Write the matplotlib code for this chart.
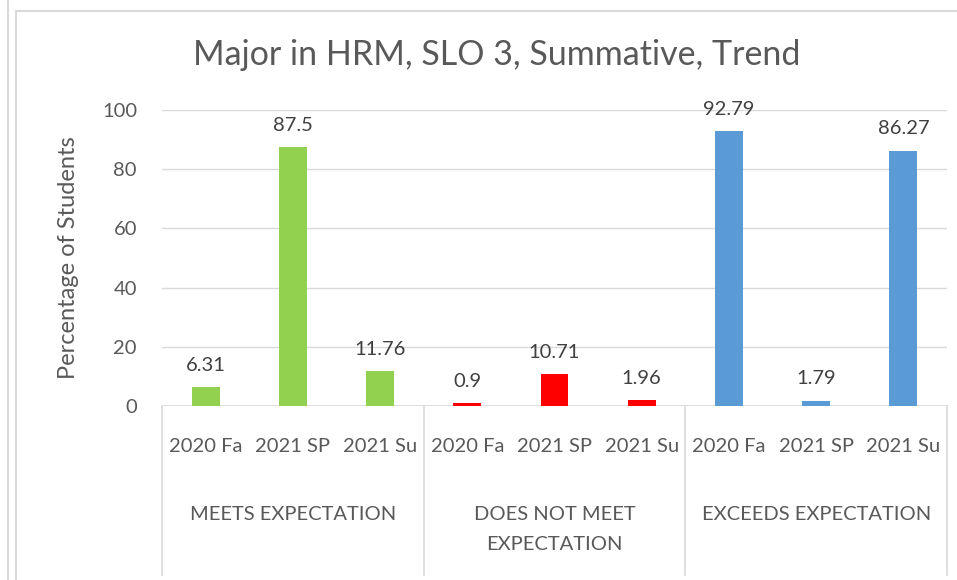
import matplotlib.pyplot as plt
from matplotlib.lines import Line2D

# categories and values
groups = ["MEETS EXPECTATION", "DOES NOT MEET\nEXPECTATION", "EXCEEDS EXPECTATION"]
terms = ["2020 Fa", "2021 SP", "2021 Su"]
meets = [6.31, 87.5, 11.76]
not_meet = [0.9, 10.71, 1.96]
exceeds = [92.79, 1.79, 86.27]
colors = ["#92d050", "#ff0000", "#5b9bd5"]

plt.rcParams['font.family'] = ['Lato', 'DejaVu Sans']

W, H = 957, 580
fig = plt.figure(figsize=(W / 100, H / 100), dpi=100)

# plot area in pixel coordinates
left, right, top, zero = 162, 947, 110, 406
ax = fig.add_axes([left / W, 1 - zero / H, (right - left) / W, (zero - top) / H])

txt = "#595959"
grid = "#d9d9d9"
fs = 14.5

def ypix(py):
    # pixel row -> axes y fraction
    return (zero - py) / (zero - top)

x = 0
for vals, col in zip([meets, not_meet, exceeds], colors):
    for v in vals:
        ax.bar(x, v, width=0.32, color=col, zorder=3)
        ax.text(x, v + 4.5, f"{v:g}", ha='center', va='bottom',
                fontsize=fs, color="#404040")
        x += 1

ax.set_xlim(-0.5, 8.5)
ax.set_ylim(0, 100)
ax.set_yticks(range(0, 101, 20))
ax.tick_params(axis='y', length=0, labelsize=fs, labelcolor=txt, pad=18)
ax.tick_params(axis='x', length=0, labelbottom=False)
ax.grid(axis='y', color=grid, linewidth=1, zorder=0)
for s in ax.spines.values():
    s.set_visible(False)
ax.axhline(0, color=grid, linewidth=1.2, zorder=2)

ax.set_ylabel("Percentage of Students", fontsize=17, color=txt)
ax.yaxis.set_label_coords((79 - left) / (right - left), 0.5)
fig.text(0.519, 1 - 55 / H, "Major in HRM, SLO 3, Summative, Trend",
         ha='center', va='center', fontsize=24.5, color=txt)

# two-level category axis below the bars
trans = ax.get_xaxis_transform()
for i in range(9):
    ax.text(i, ypix(446), terms[i % 3], transform=trans,
            ha='center', va='center', fontsize=fs, color=txt)
for g, name in enumerate(groups):
    for k, line in enumerate(name.split("\n")):
        ax.text(g * 3 + 1, ypix(515 + 30 * k), line, transform=trans,
                ha='center', va='center', fontsize=fs, color=txt)
for xs in [-0.5, 2.5, 5.5, 8.5]:
    ax.add_line(Line2D([xs, xs], [0, ypix(575)], transform=trans,
                       color=grid, linewidth=1.2, clip_on=False))

# outer frame lines
fig.add_artist(Line2D([8 / W, 8 / W], [0, 1], color=grid, linewidth=1.5))
fig.add_artist(Line2D([16 / W, 16 / W], [0, 1 - 11 / H], color=grid, linewidth=1.5))
fig.add_artist(Line2D([16 / W, 1], [1 - 11 / H, 1 - 11 / H], color=grid, linewidth=1.5))

fig.savefig("out.png", dpi=100)
